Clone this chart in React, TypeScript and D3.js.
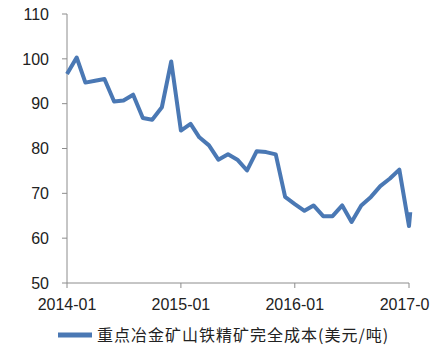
import React from "react";
import * as d3 from "d3";

const dates = [
  "2014-01", "2014-02", "2014-03", "2014-04", "2014-05", "2014-06",
  "2014-07", "2014-08", "2014-09", "2014-10", "2014-11", "2014-12",
  "2015-01", "2015-02", "2015-03", "2015-04", "2015-05", "2015-06",
  "2015-07", "2015-08", "2015-09", "2015-10", "2015-11", "2015-12",
  "2016-01", "2016-02", "2016-03", "2016-04", "2016-05", "2016-06",
  "2016-07", "2016-08", "2016-09", "2016-10", "2016-11", "2016-12",
  "2017-01", "2017-01-05",
];
const values = [
  96.6, 100.3, 94.7, 95.1, 95.5, 90.5, 90.7, 92.0, 86.8, 86.4, 89.2, 99.4,
  84.0, 85.5, 82.5, 80.7, 77.5, 78.7, 77.5, 75.1, 79.4, 79.2, 78.7, 69.2,
  67.6, 66.1, 67.3, 64.9, 64.9, 67.3, 63.6, 67.3, 69.2, 71.6, 73.3, 75.3,
  62.7, 65.8,
];
const yTicks = [50, 60, 70, 80, 90, 100, 110];
const xTicks = ["2014-01", "2015-01", "2016-01", "2017-01"];
const seriesName = "重点冶金矿山铁精矿完全成本(美元/吨)";

const width = 430;
const height = 354;
const margin = { left: 67, right: 21, top: 14, bottom: 71 };
const lineColor = "#4a78b4";
const axisColor = "#8c8c8c";
const font = "'Liberation Sans', Arial, sans-serif";

const parse = (s: string) =>
  s.length > 7 ? d3.timeParse("%Y-%m-%d")(s)! : d3.timeParse("%Y-%m")(s)!;

export default function App() {
  const x = d3
    .scaleTime()
    .domain([parse("2014-01"), parse("2017-01")])
    .range([margin.left, width - margin.right]);
  const y = d3
    .scaleLinear()
    .domain([50, 110])
    .range([height - margin.bottom, margin.top]);

  const pts = dates.map((d, i) => ({ date: parse(d), value: values[i] }));
  const line = d3
    .line<{ date: Date; value: number }>()
    .x((d) => x(d.date))
    .y((d) => y(d.value));

  const x0 = margin.left;
  const yBottom = height - margin.bottom;

  return (
    <svg
      width={width}
      height={height}
      style={{ position: "absolute", left: 0, top: 0, background: "#fff" }}
    >
      {/* y axis */}
      <line x1={x0} x2={x0} y1={y(110)} y2={yBottom} stroke={axisColor} />
      {yTicks.map((t) => (
        <g key={t}>
          <line x1={x0 - 5} x2={x0} y1={y(t)} y2={y(t)} stroke={axisColor} />
          <text
            x={x0 - 18}
            y={y(t)}
            dy="0.36em"
            textAnchor="end"
            fontFamily={font}
            fontSize={16}
            fill="#222"
          >
            {t}
          </text>
        </g>
      ))}

      {/* x axis */}
      <line
        x1={x0}
        x2={x(parse("2017-01"))}
        y1={yBottom}
        y2={yBottom}
        stroke={axisColor}
      />
      {xTicks.map((t) => (
        <g key={t}>
          <line
            x1={x(parse(t))}
            x2={x(parse(t))}
            y1={yBottom}
            y2={yBottom + 5}
            stroke={axisColor}
          />
          <text
            x={x(parse(t))}
            y={yBottom + 27}
            textAnchor="middle"
            fontFamily={font}
            fontSize={16}
            fill="#222"
          >
            {t}
          </text>
        </g>
      ))}

      <path
        d={line(pts) ?? ""}
        fill="none"
        stroke={lineColor}
        strokeWidth={4}
        strokeLinejoin="round"
      />

      {/* legend */}
      <line x1={58} x2={92} y1={335} y2={335} stroke={lineColor} strokeWidth={5} />
      <text
        x={97}
        y={335}
        dy="0.36em"
        fontFamily="'Noto Sans CJK SC', sans-serif"
        fontSize={16}
        letterSpacing={1}
        fill="#222"
      >
        {seriesName}
      </text>
    </svg>
  );
}
